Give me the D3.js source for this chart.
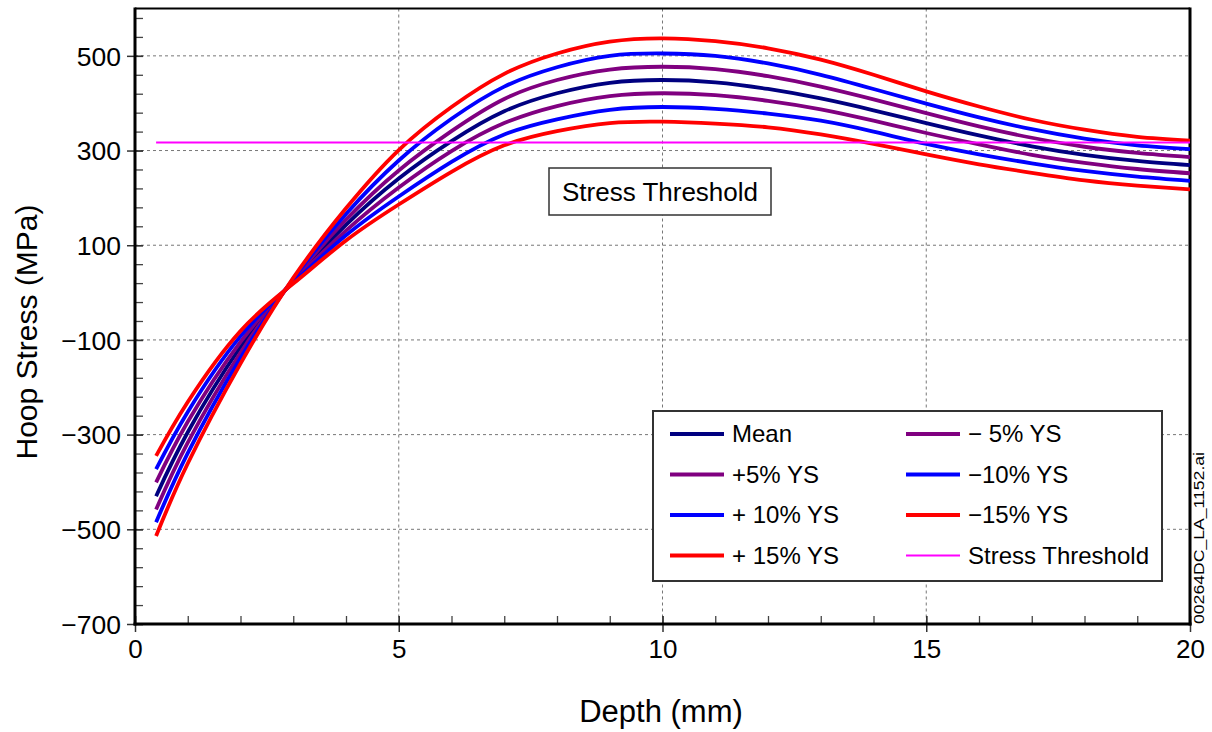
<!DOCTYPE html>
<html><head><meta charset="utf-8">
<script src="https://cdn.jsdelivr.net/npm/d3@7"></script>
<style>body{margin:0;background:#fff} svg{display:block} text{font-family:"Liberation Sans",Arial,Helvetica,sans-serif;fill:#000}</style>
</head><body><svg id="c" width="1212" height="732"></svg>
<script>
// ---- data ----
const depth   = [0.4,1,2,3,4,5,6,7,8,9,10,11,12,13,14,15,16,17,18,19,20];
const mean    = [-430,-295,-115,25,143,241,320,383,421,443,449,444,430,410,385,358,332,309,291,278,269];
const plus5   = [-458,-317,-127,27,154,258,341,409,449,471,477,472,457,435,408,379,351,327,308,295,286];
const plus10  = [-485,-339,-138,29,166,279,367,435,476,500,505,500,484,460,430,399,370,345,325,311,303];
const plus15  = [-514,-361,-150,31,178,301,392,462,505,530,537,531,516,492,460,425,393,365,344,329,321];
const minus5  = [-401,-273,-104,23,131,222,299,358,394,415,421,417,405,387,363,337,313,291,274,261,252];
const minus10 = [-373,-252,-92,21,121,203,276,334,366,386,392,388,378,363,340,314,292,273,257,245,236];
const minus15 = [-345,-231,-81,19,110,186,255,311,341,358,361,357,349,334,314,292,271,253,237,226,218];
const thresholdDepth = [0.4, 20];
const thresholdValue = 317;
const xTicks = [0,5,10,15,20];
const yTicks = [-700,-500,-300,-100,100,300,500];
const seriesNames  = ["Mean","+5% YS","+ 10% YS","+ 15% YS","\u2212 5% YS","\u221210% YS","\u221215% YS"];
const seriesColors = ["#000080","#800080","#0000ff","#ff0000","#800080","#0000ff","#ff0000"];
const seriesValues = [mean, plus5, plus10, plus15, minus5, minus10, minus15];
const legendOrder = ["Mean","+5% YS","+ 10% YS","+ 15% YS","\u2212 5% YS","\u221210% YS","\u221215% YS","Stress Threshold"];
const thresholdColor = "#ff00ff";

// ---- layout ----
const L = 135, R = 1190, T = 8.5, B = 624;
const svg = d3.select("#c");
const x = d3.scaleLinear().domain([0,20]).range([L,R]);
const y = d3.scaleLinear().domain([-700,600]).range([B,T]);

// grid
const g = svg.append("g");
g.selectAll("line.gx").data(xTicks.filter(v=>v>0&&v<20)).join("line")
  .attr("x1",d=>x(d)).attr("x2",d=>x(d)).attr("y1",T).attr("y2",B)
  .attr("stroke","#777").attr("stroke-width",1).attr("stroke-dasharray","3,3");
g.selectAll("line.gy").data(yTicks.filter(v=>v>-700)).join("line")
  .attr("y1",d=>y(d)).attr("y2",d=>y(d)).attr("x1",L).attr("x2",R)
  .attr("stroke","#777").attr("stroke-width",1).attr("stroke-dasharray","3,3");

// minor ticks (inside)
const yMinor = d3.range(-700,601,40);
const xMinor = d3.range(0,20.01,1);
svg.append("g").attr("transform",`translate(${L},0)`)
  .call(d3.axisLeft(y).tickValues(yMinor).tickSize(-8).tickFormat(""))
  .call(a=>{a.select(".domain").remove(); a.selectAll("line").attr("stroke","#444").attr("stroke-width",1.3);});
svg.append("g").attr("transform",`translate(0,${B})`)
  .call(d3.axisBottom(x).tickValues(xMinor).tickSize(-8).tickFormat(""))
  .call(a=>{a.select(".domain").remove(); a.selectAll("line").attr("stroke","#444").attr("stroke-width",1.3);});

// major axes
const ya = svg.append("g").attr("transform",`translate(${L},0)`)
  .call(d3.axisLeft(y).tickValues(yTicks).tickSizeInner(8).tickSizeOuter(0).tickPadding(6).tickFormat(d3.format("d")));
ya.select(".domain").remove();
ya.selectAll("line").attr("stroke","#333").attr("stroke-width",1.5).attr("x2",8).attr("x1",-8);
ya.selectAll("text").attr("font-size",26.5).attr("font-family","Liberation Sans, Arial, sans-serif").attr("dy","0.35em").attr("x",-14);

const xa = svg.append("g").attr("transform",`translate(0,${B})`)
  .call(d3.axisBottom(x).tickValues(xTicks).tickSizeOuter(0).tickFormat(d3.format("d")));
xa.select(".domain").remove();
xa.selectAll("line").attr("stroke","#333").attr("stroke-width",1.5).attr("y1",-8).attr("y2",8);
xa.selectAll("text").attr("font-size",26).attr("font-family","Liberation Sans, Arial, sans-serif").attr("y",16).attr("dy","0.71em");

// frame
svg.append("line").attr("x1",L).attr("x2",R).attr("y1",T).attr("y2",T).attr("stroke","#000").attr("stroke-width",2.2);
svg.append("line").attr("x1",R).attr("x2",R).attr("y1",T-1).attr("y2",B+1.5).attr("stroke","#000").attr("stroke-width",3);
svg.append("line").attr("x1",L).attr("x2",L).attr("y1",T-1).attr("y2",B+1.5).attr("stroke","#000").attr("stroke-width",3);
svg.append("line").attr("x1",L-1.5).attr("x2",R+1.5).attr("y1",B).attr("y2",B).attr("stroke","#000").attr("stroke-width",3);

// curves
const line = d3.line().x(d=>x(d[0])).y(d=>y(d[1])).curve(d3.curveNatural);
const drawOrder = [0,1,4,2,5,3,6];
drawOrder.forEach(i=>{
  svg.append("path").datum(depth.map((d,j)=>[d,seriesValues[i][j]]))
    .attr("d",line).attr("fill","none").attr("stroke",seriesColors[i])
    .attr("stroke-width",3.8).attr("stroke-linejoin","round");
});
// threshold
svg.append("path").datum(thresholdDepth.map(d=>[d,thresholdValue]))
  .attr("d",d3.line().x(d=>x(d[0])).y(d=>y(d[1]))).attr("fill","none").attr("stroke",thresholdColor).attr("stroke-width",2.2);

// threshold label box
const lb = svg.append("g");
lb.append("rect").attr("x",549).attr("y",168).attr("width",222).attr("height",47)
  .attr("fill","#fff").attr("stroke","#333").attr("stroke-width",1.5);
lb.append("text").attr("x",660).attr("y",192).attr("dy","0.35em").attr("text-anchor","middle")
  .attr("font-size",26).text("Stress Threshold");

// legend
const lg = svg.append("g");
lg.append("rect").attr("x",653).attr("y",411).attr("width",509).attr("height",170)
  .attr("fill","#fff").attr("stroke","#333").attr("stroke-width",2);
const legColors = [...seriesColors, thresholdColor];
const legWidths = [3.8,3.8,3.8,3.8,3.8,3.8,3.8,2.2];
legendOrder.forEach((name,i)=>{
  const col = Math.floor(i/4), row = i%4;
  const lx = col===0 ? 670 : 906;
  const ly = 434 + row*40.5;
  lg.append("line").attr("x1",lx).attr("x2",lx+54).attr("y1",ly).attr("y2",ly)
    .attr("stroke",legColors[i]).attr("stroke-width",legWidths[i]);
  lg.append("text").attr("x",lx+62).attr("y",ly).attr("dy","0.35em").attr("font-size",24).text(name);
});

// axis titles
svg.append("text").attr("x",661).attr("y",722).attr("text-anchor","middle").attr("font-size",31).text("Depth (mm)");
svg.append("text").attr("transform",`translate(37,332) rotate(-90)`).attr("text-anchor","middle").attr("font-size",30).text("Hoop Stress (MPa)");

// file id
svg.append("text").attr("transform",`translate(1204,624) rotate(-90)`).attr("text-anchor","start")
  .attr("font-size",15).attr("font-family","Liberation Sans Narrow, Liberation Sans, Arial, sans-serif")
  .attr("textLength",172).attr("lengthAdjust","spacingAndGlyphs").text("00264DC_LA_1152.ai");
</script></body></html>
